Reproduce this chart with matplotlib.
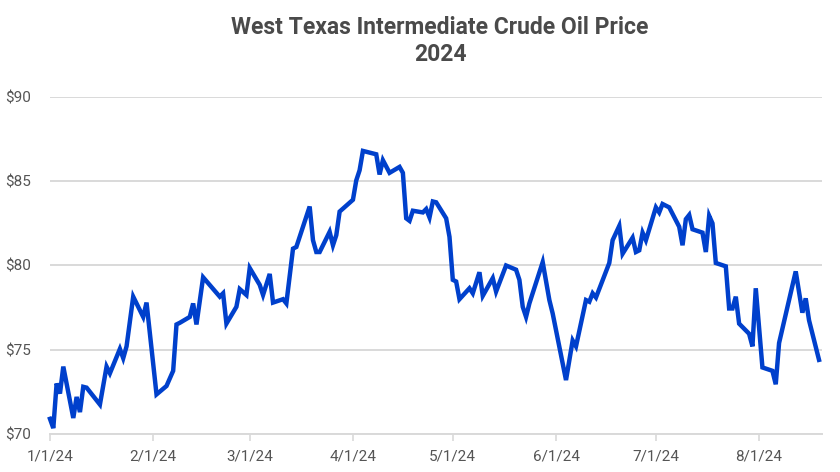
import matplotlib
matplotlib.use("Agg")
import matplotlib.pyplot as plt
import pandas as pd

# WTI price (trading days, 2024)
dates = [
    "2024-01-01", "2024-01-02", "2024-01-03", "2024-01-04", "2024-01-05",
    "2024-01-08", "2024-01-09", "2024-01-10", "2024-01-11", "2024-01-12",
    "2024-01-16", "2024-01-18", "2024-01-19", "2024-01-22", "2024-01-23",
    "2024-01-24", "2024-01-26", "2024-01-29", "2024-01-30", "2024-02-02",
    "2024-02-05", "2024-02-07", "2024-02-08", "2024-02-09", "2024-02-12",
    "2024-02-13", "2024-02-14", "2024-02-16", "2024-02-21", "2024-02-22",
    "2024-02-23", "2024-02-26", "2024-02-27", "2024-02-29", "2024-03-01",
    "2024-03-04", "2024-03-05", "2024-03-07", "2024-03-08", "2024-03-11",
    "2024-03-12", "2024-03-14", "2024-03-15", "2024-03-19", "2024-03-20",
    "2024-03-21", "2024-03-22", "2024-03-25", "2024-03-26", "2024-03-27",
    "2024-03-28", "2024-04-01", "2024-04-02", "2024-04-03", "2024-04-04",
    "2024-04-08", "2024-04-09", "2024-04-10", "2024-04-12", "2024-04-15",
    "2024-04-16", "2024-04-17", "2024-04-18", "2024-04-19", "2024-04-22",
    "2024-04-23", "2024-04-24", "2024-04-25", "2024-04-26", "2024-04-29",
    "2024-04-30", "2024-05-01", "2024-05-02", "2024-05-03", "2024-05-06",
    "2024-05-07", "2024-05-09", "2024-05-10", "2024-05-13", "2024-05-14",
    "2024-05-17", "2024-05-20", "2024-05-21", "2024-05-22", "2024-05-23",
    "2024-05-24", "2024-05-28", "2024-05-30", "2024-05-31", "2024-06-04",
    "2024-06-06", "2024-06-07", "2024-06-10", "2024-06-11", "2024-06-12",
    "2024-06-13", "2024-06-17", "2024-06-18", "2024-06-20", "2024-06-21",
    "2024-06-24", "2024-06-25", "2024-06-26", "2024-06-27", "2024-06-28",
    "2024-07-01", "2024-07-02", "2024-07-03", "2024-07-05", "2024-07-08",
    "2024-07-09", "2024-07-10", "2024-07-11", "2024-07-12", "2024-07-15",
    "2024-07-16", "2024-07-17", "2024-07-18", "2024-07-19", "2024-07-22",
    "2024-07-23", "2024-07-24", "2024-07-25", "2024-07-26", "2024-07-29",
    "2024-07-30", "2024-07-31", "2024-08-02", "2024-08-05", "2024-08-06",
    "2024-08-07", "2024-08-12", "2024-08-14", "2024-08-15", "2024-08-16",
    "2024-08-19",
]
prices = [
    70.9, 70.35, 73.0, 72.4, 74.0,
    70.95, 72.2, 71.3, 72.8, 72.75,
    71.75, 74.0, 73.6, 75.05, 74.5,
    75.2, 78.15, 76.95, 77.8, 72.35,
    72.85, 73.75, 76.5, 76.6, 76.95,
    77.75, 76.5, 79.3, 78.15, 78.35,
    76.55, 77.55, 78.6, 78.25, 79.85,
    78.85, 78.25, 79.5, 77.8, 78.0,
    77.75, 81.0, 81.1, 83.5, 81.5,
    80.8, 80.8, 82.0, 81.2, 81.8,
    83.2, 83.9, 85.05, 85.65, 86.8,
    86.6, 85.4, 86.25, 85.5, 85.85,
    85.5, 82.8, 82.65, 83.25, 83.15,
    83.35, 82.85, 83.8, 83.75, 82.8,
    81.7, 79.15, 79.05, 78.0, 78.65,
    78.35, 79.6, 78.2, 79.25, 78.45,
    80.0, 79.75, 79.15, 77.55, 76.95,
    77.75, 80.2, 77.95, 77.15, 73.2,
    75.55, 75.2, 77.95, 77.85, 78.35,
    78.1, 80.15, 81.5, 82.35, 80.7,
    81.65, 80.8, 80.9, 81.95, 81.5,
    83.45, 83.15, 83.65, 83.45, 82.3,
    81.2, 82.75, 83.0, 82.15, 81.95,
    80.8, 82.95, 82.5, 80.15, 79.95,
    77.45, 77.45, 78.15, 76.55, 75.95,
    75.2, 78.65, 73.95, 73.75, 72.95,
    75.4, 79.65, 77.2, 78.05, 76.75,
    74.4,
]
x_ticks = ["2024-01-01", "2024-02-01", "2024-03-01", "2024-04-01",
           "2024-05-01", "2024-06-01", "2024-07-01", "2024-08-01"]
x_tick_labels = ["1/1/24", "2/1/24", "3/1/24", "4/1/24",
                 "5/1/24", "6/1/24", "7/1/24", "8/1/24"]
y_ticks = [70, 75, 80, 85, 90]
y_tick_labels = ["$70", "$75", "$80", "$85", "$90"]

plt.rcParams["font.family"] = ["Roboto", "DejaVu Sans"]

fig = plt.figure(figsize=(8.4, 4.72), dpi=100)
ax = fig.add_axes([0.0595, 0.0805, 0.9185, 0.714])

ax.plot(pd.to_datetime(dates), prices, color="#0040cc", linewidth=3.2,
        solid_joinstyle="miter", clip_on=False, zorder=3)

ax.set_ylim(70, 90)
ax.set_xlim(pd.Timestamp("2024-01-01"), pd.Timestamp("2024-08-19 18:00"))
ax.set_yticks(y_ticks)
ax.set_yticklabels(y_tick_labels)
ax.set_xticks(pd.to_datetime(x_ticks))
ax.set_xticklabels(x_tick_labels)

ax.grid(axis="y", color="#d9d9d9", linewidth=1.4)
ax.set_axisbelow(True)
for s in ["top", "right", "left"]:
    ax.spines[s].set_visible(False)
ax.spines["bottom"].set_color("#d9d9d9")
ax.spines["bottom"].set_linewidth(1.4)

ax.tick_params(axis="y", length=0, pad=14, labelsize=11, labelcolor="#555555")
ax.tick_params(axis="x", length=5, width=1.2, color="#d9d9d9", pad=6,
               labelsize=11, labelcolor="#555555")

fig.text(0.524, 0.913, "West Texas Intermediate Crude Oil Price\n2024",
         ha="center", va="center", fontsize=16.5, fontweight="bold",
         color="#4a4a4a", linespacing=1.2)

fig.savefig("out.png", dpi=100)
